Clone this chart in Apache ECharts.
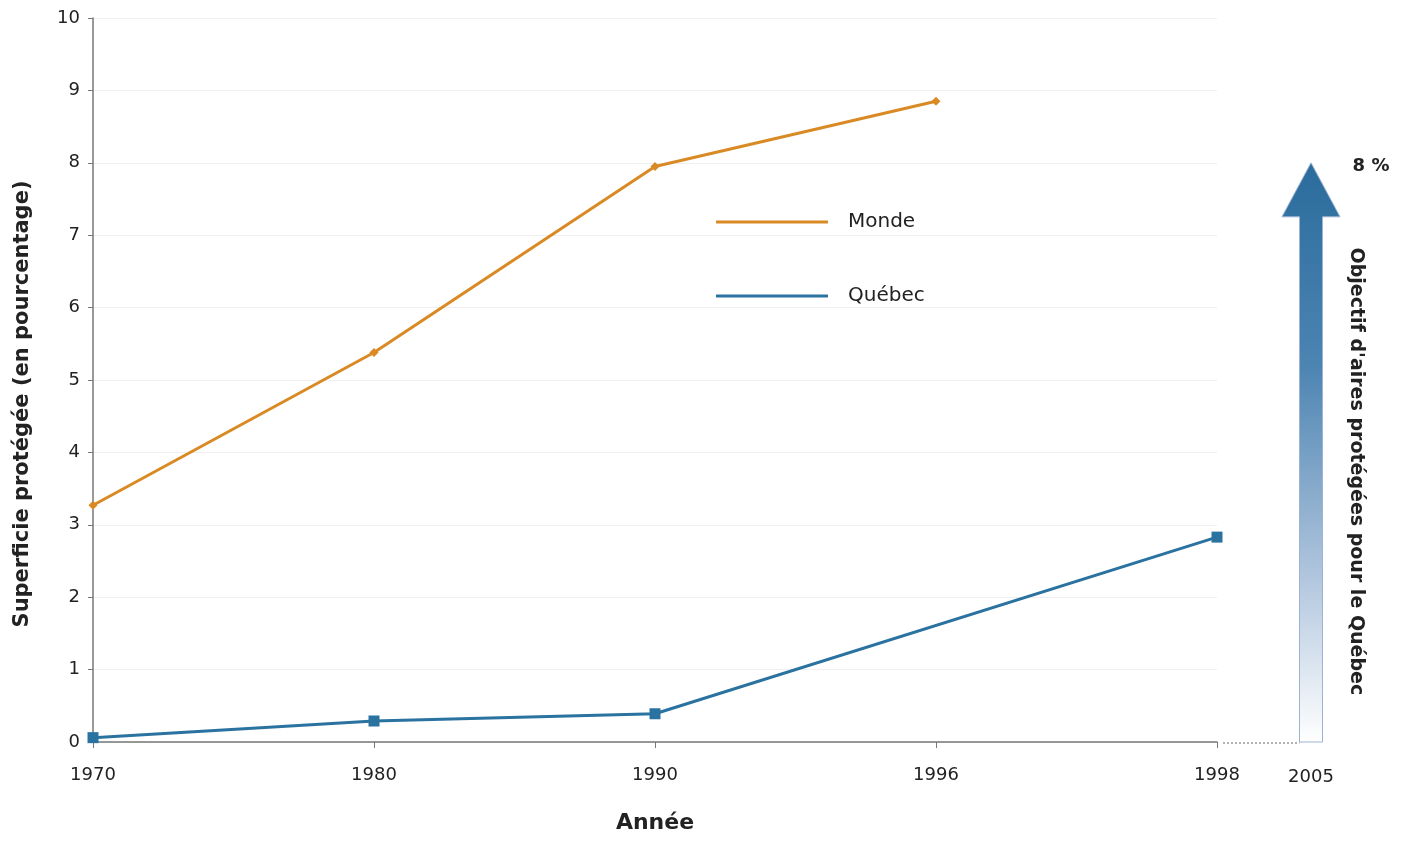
<!DOCTYPE html>
<html><head><meta charset="utf-8">
<script src="https://cdn.jsdelivr.net/npm/echarts@6/dist/echarts.min.js"></script>
<style>html,body{margin:0;padding:0;background:#fff}#c{width:1405px;height:845px}</style>
</head><body><div id="c"></div>
<script>
const years = ['1970', '1980', '1990', '1996', '1998'];
const monde = [3.27, 5.38, 7.95, 8.85, null];
const quebec = [0.06, 0.29, 0.39, null, 2.83];
const yMin = 0, yMax = 10, yStep = 1;
const targetYear = '2005';
const targetValue = 8;
const targetLabel = '8 %';
const targetText = "Objectif d'aires protégées pour le Québec";
const xTitle = 'Année';
const yTitle = 'Superficie protégée (en pourcentage)';

const FONT = 'DejaVu Sans';
const chart = echarts.init(document.getElementById('c'), null, {renderer: 'canvas'});
const option = {
  backgroundColor: '#fff',
  animation: false,
  textStyle: {fontFamily: FONT},
  grid: {left: 93, right: 188, top: 18, bottom: 103, containLabel: false},
  legend: {
    orient: 'vertical', left: 711, top: 207, itemWidth: 112, itemHeight: 3, itemGap: 54,
    icon: 'rect',
    textStyle: {fontFamily: FONT, fontSize: 20, color: '#222', padding: [0, 0, 0, 15]},
    data: [{name: 'Monde'}, {name: 'Québec'}]
  },
  xAxis: {
    type: 'category', data: years, boundaryGap: false,
    name: xTitle, nameLocation: 'middle', nameGap: 70,
    nameTextStyle: {fontFamily: FONT, fontWeight: 'bold', fontSize: 22, color: '#222'},
    axisLine: {lineStyle: {color: '#777', width: 1.5}},
    axisTick: {length: 6, lineStyle: {color: '#777'}},
    axisLabel: {fontFamily: FONT, fontSize: 18, color: '#222', margin: 24}
  },
  yAxis: {
    type: 'value', min: yMin, max: yMax, interval: yStep,
    name: yTitle, nameLocation: 'middle', nameGap: 60, nameRotate: 90,
    nameTextStyle: {fontFamily: FONT, fontWeight: 'bold', fontSize: 21, color: '#222', padding: [0, 48, 0, 0]},
    axisLine: {show: true, lineStyle: {color: '#777', width: 1.5}},
    axisTick: {show: true, length: 5, lineStyle: {color: '#777'}},
    axisLabel: {fontFamily: FONT, fontSize: 18, color: '#222', margin: 13},
    splitLine: {lineStyle: {color: '#f0f0f0'}}
  },
  series: [
    {name: 'Monde', type: 'line', data: monde, connectNulls: true,
     symbol: 'diamond', symbolSize: 9, showAllSymbol: true,
     lineStyle: {color: '#d98a24', width: 3}, itemStyle: {color: '#d98a24'}, color: '#d98a24'},
    {name: 'Québec', type: 'line', data: quebec, connectNulls: true,
     symbol: 'rect', symbolSize: 11, showAllSymbol: true,
     lineStyle: {color: '#2a72a0', width: 3}, itemStyle: {color: '#2a72a0'}, color: '#2a72a0'}
  ]
};
chart.setOption(option);

const lastX = chart.convertToPixel({xAxisIndex: 0}, years[years.length - 1]);
const y0 = chart.convertToPixel({yAxisIndex: 0}, 0);
const yT = chart.convertToPixel({yAxisIndex: 0}, targetValue);
const ax = lastX + 94; // centre of the arrow
const shaftHalf = 11.5, headHalf = 29, headLen = 54;
chart.setOption({
  graphic: [
    {type: 'line', shape: {x1: lastX + 6, y1: y0 + 1, x2: ax - shaftHalf, y2: y0 + 1},
     style: {stroke: '#999', lineWidth: 1.5, lineDash: [2, 2]}},
    {type: 'polygon',
     shape: {points: [
       [ax - shaftHalf, y0], [ax - shaftHalf, yT + headLen], [ax - headHalf, yT + headLen],
       [ax, yT], [ax + headHalf, yT + headLen], [ax + shaftHalf, yT + headLen], [ax + shaftHalf, y0]
     ]},
     style: {
       fill: new echarts.graphic.LinearGradient(0, 0, 0, 1, [
         {offset: 0, color: '#2a6c9c'}, {offset: 0.35, color: '#4c84b2'},
         {offset: 0.7, color: '#adc3dc'}, {offset: 1, color: '#ffffff'}
       ]),
       stroke: '#9db3d3', lineWidth: 1
     }},
    {type: 'text', x: ax, y: y0 + 35,
     style: {text: targetYear, fontFamily: FONT, fontSize: 18, fill: '#222', align: 'center', verticalAlign: 'middle'}},
    {type: 'text', x: ax + 60, y: yT + 4,
     style: {text: targetLabel, fontFamily: FONT, fontSize: 18, fontWeight: 'bold', fill: '#222', align: 'center', verticalAlign: 'middle'}},
    {type: 'text', x: ax + 45, y: (y0 + yT) / 2 + 19, rotation: -Math.PI / 2,
     style: {text: targetText, fontFamily: FONT, fontSize: 19, fontWeight: 'bold', fill: '#222', align: 'center', verticalAlign: 'middle'}}
  ]
});
</script></body></html>
